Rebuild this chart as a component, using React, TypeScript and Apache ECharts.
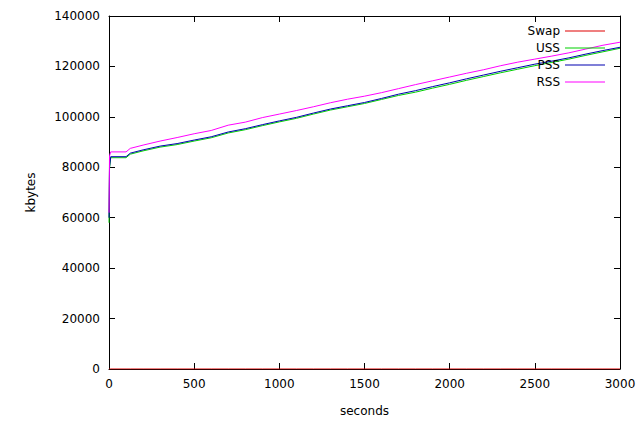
import React, { useEffect, useRef } from "react";
import * as echarts from "echarts";

const seconds = [0, 3, 10, 100, 125, 200, 300, 400, 500, 600, 700, 800, 900, 1000, 1100, 1200, 1300, 1400, 1500, 1600, 1700, 1800, 1900, 2000, 2100, 2200, 2300, 2400, 2500, 2600, 2700, 2800, 2900, 3000];
const swap = [0, 0, 0, 0, 0, 0, 0, 0, 0, 0, 0, 0, 0, 0, 0, 0, 0, 0, 0, 0, 0, 0, 0, 0, 0, 0, 0, 0, 0, 0, 0, 0, 0, 0];
const uss = [58000, 79500, 83800, 83800, 85200, 86500, 88000, 89000, 90400, 91700, 93600, 94900, 96500, 98000, 99400, 101100, 102700, 104000, 105300, 106900, 108500, 109800, 111400, 112900, 114500, 116000, 117500, 118900, 120300, 121600, 122900, 124400, 125800, 127200];
const pss = [60000, 80000, 84200, 84200, 85600, 86900, 88400, 89400, 90800, 92100, 94000, 95300, 96900, 98400, 99800, 101500, 103100, 104400, 105700, 107300, 109000, 110400, 112000, 113500, 115100, 116600, 118100, 119500, 120900, 122100, 123400, 124900, 126300, 127600];
const rss = [62000, 84500, 86100, 86100, 87500, 88800, 90400, 91800, 93300, 94600, 96700, 97900, 99700, 101100, 102500, 104000, 105600, 107000, 108200, 109600, 111200, 112800, 114300, 115800, 117300, 118700, 120300, 121700, 122900, 124100, 125400, 126900, 128400, 129600];

const xTicks = { min: 0, max: 3000, interval: 500 };
const yTicks = { min: 0, max: 140000, interval: 20000 };

const FONT = "DejaVu Sans";

export default function App() {
  const ref = useRef<HTMLDivElement>(null);
  useEffect(() => {
    const chart = echarts.init(ref.current!, null, { renderer: "svg" });
    const mk = (name: string, data: number[], color: string) => ({
      name,
      type: "line",
      data: seconds.map((s, i) => [s, data[i]]),
      symbol: "none",
      color,
      lineStyle: { color, width: 1 },
      xAxisIndex: 0,
      yAxisIndex: 0,
    });
    const axisLine = { show: true, onZero: false, lineStyle: { color: "#000", width: 1 } };
    const axisTick = { show: true, inside: true, length: 6, lineStyle: { color: "#000" } };
    const label = { fontFamily: FONT, fontSize: 12, color: "#000", margin: 9, formatter: (v: number) => String(v) };
    chart.setOption({
      animation: false,
      backgroundColor: "#fff",
      textStyle: { fontFamily: FONT },
      grid: { left: 109, right: 20, top: 16, bottom: 54 },
      legend: {
        orient: "vertical",
        right: 35,
        top: 24,
        padding: 0,
        align: "right",
        icon: "rect",
        itemWidth: 40,
        itemHeight: 1,
        itemGap: 3,
        textStyle: { fontFamily: FONT, fontSize: 12, color: "#000", width: 45, align: "right", lineHeight: 14 },
        data: ["Swap", "USS", "PSS", "RSS"],
      },
      xAxis: [
        {
          type: "value",
          ...xTicks,
          name: "seconds",
          nameLocation: "middle",
          nameGap: 36,
          nameTextStyle: { fontFamily: FONT, fontSize: 12, color: "#000" },
          axisLine,
          axisTick,
          splitLine: { show: false },
          axisLabel: label,
        },
        {
          type: "value",
          ...xTicks,
          position: "top",
          axisLine,
          axisTick,
          splitLine: { show: false },
          axisLabel: { show: false },
        },
      ],
      yAxis: [
        {
          type: "value",
          ...yTicks,
          name: "kbytes",
          nameLocation: "middle",
          nameRotate: 90,
          nameGap: 72,
          nameTextStyle: { fontFamily: FONT, fontSize: 12, color: "#000" },
          axisLine,
          axisTick,
          splitLine: { show: false },
          axisLabel: label,
        },
        {
          type: "value",
          ...yTicks,
          position: "right",
          axisLine,
          axisTick,
          splitLine: { show: false },
          axisLabel: { show: false },
        },
      ],
      series: [
        mk("Swap", swap, "#e00000"),
        mk("USS", uss, "#00d000"),
        mk("PSS", pss, "#0000b0"),
        mk("RSS", rss, "#ff00ff"),
      ],
    });
    return () => chart.dispose();
  }, []);
  return <div ref={ref} style={{ width: 640, height: 423, position: "absolute", left: 0, top: 0 }} />;
}
